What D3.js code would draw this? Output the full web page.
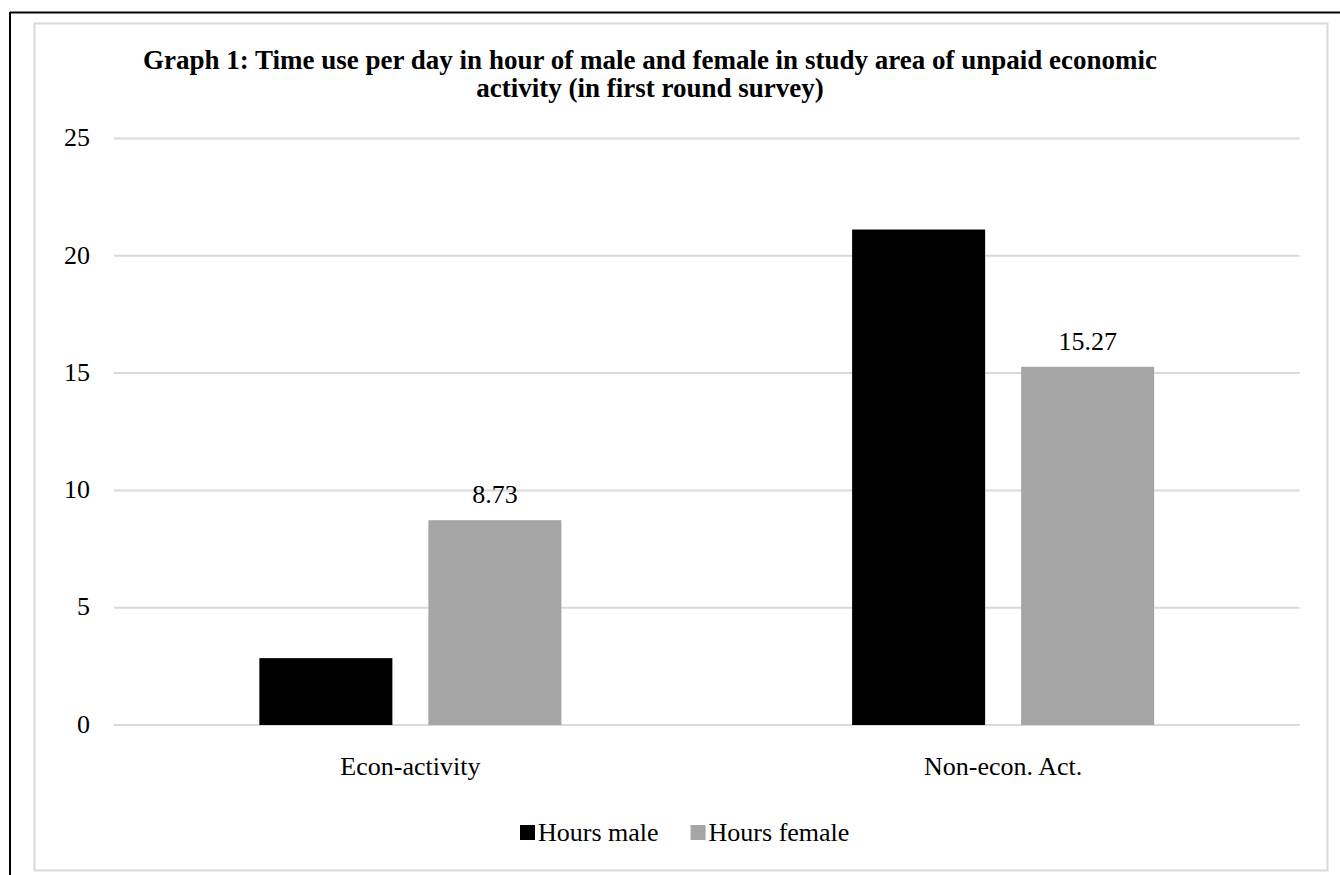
<!DOCTYPE html>
<html>
<head>
<meta charset="utf-8">
<script src="https://cdn.jsdelivr.net/npm/d3@7"></script>
<style>
  html, body { margin: 0; padding: 0; background: #fff; }
  svg text { font-family: "Liberation Serif", "Times New Roman", serif; fill: #000; }
</style>
</head>
<body>
<div id="chart"></div>
<script>
// Data
const categories = ['Econ-activity', 'Non-econ. Act.'];
const seriesNames = ['Hours male', 'Hours female'];
const hoursMale = [2.85, 21.12];
const hoursFemale = [8.73, 15.27];
const yTicks = [0, 5, 10, 15, 20, 25];
const titleLines = [
    'Graph 1: Time use per day in hour of male and female in study area of unpaid economic',
    'activity (in first round survey)'
];
// only the female series shows data labels
const labelSeries = ['Hours female'];

const colors = { 'Hours male': '#000000', 'Hours female': '#a5a5a5' };

const width = 1340, height = 875;
const plot = { left: 114, right: 1299.5, top: 138.5, bottom: 725 };

const svg = d3.select('#chart').append('svg')
    .attr('width', width)
    .attr('height', height);

// outer frame (black top and left edges)
svg.append('line').attr('x1', 10).attr('x2', width).attr('y1', 12.5).attr('y2', 12.5)
    .attr('stroke', '#000').attr('stroke-width', 2);
svg.append('line').attr('x1', 10).attr('x2', 10).attr('y1', 12).attr('y2', height)
    .attr('stroke', '#000').attr('stroke-width', 2);

// chart area border
svg.append('rect')
    .attr('x', 34.5).attr('y', 23.5)
    .attr('width', 1293).attr('height', 847)
    .attr('fill', '#fff')
    .attr('stroke', '#d9d9d9')
    .attr('stroke-width', 2);

// Scales
const y = d3.scaleLinear().domain([0, 25]).range([plot.bottom, plot.top]);
const x0 = d3.scaleBand().domain(categories).range([plot.left, plot.right]);
const x1 = d3.scaleBand().domain(seriesNames).range([0, x0.bandwidth()])
    .paddingInner(0.213).paddingOuter(0.86);

// Gridlines
svg.append('g')
    .selectAll('line')
    .data(yTicks)
    .join('line')
    .attr('x1', plot.left).attr('x2', plot.right)
    .attr('y1', d => y(d)).attr('y2', d => y(d))
    .attr('stroke', '#d9d9d9')
    .attr('stroke-width', 2);

// Y axis labels
const yAxis = d3.axisLeft(y).tickValues(yTicks).tickSize(0).tickPadding(24);
svg.append('g')
    .attr('transform', `translate(${plot.left},0)`)
    .call(yAxis)
    .call(g => g.select('.domain').remove())
    .selectAll('text')
    .style('font-family', '"Liberation Serif", "Times New Roman", serif')
    .style('font-size', '26px')
    .attr('fill', '#000')
    .attr('dy', '0.28em');

// X axis labels
const xAxis = d3.axisBottom(x0).tickSize(0).tickPadding(32);
svg.append('g')
    .attr('transform', `translate(0,${plot.bottom})`)
    .call(xAxis)
    .call(g => g.select('.domain').remove())
    .selectAll('text')
    .style('font-family', '"Liberation Serif", "Times New Roman", serif')
    .style('font-size', '26px')
    .attr('fill', '#000');

// Bars
const rows = categories.map((c, i) => ({
    category: c,
    values: [
        { series: 'Hours male', value: hoursMale[i] },
        { series: 'Hours female', value: hoursFemale[i] }
    ]
}));

const groups = svg.append('g')
    .selectAll('g')
    .data(rows)
    .join('g')
    .attr('transform', d => `translate(${x0(d.category)},0)`);

groups.selectAll('rect')
    .data(d => d.values)
    .join('rect')
    .attr('x', d => x1(d.series))
    .attr('y', d => y(d.value))
    .attr('width', x1.bandwidth())
    .attr('height', d => y(0) - y(d.value))
    .attr('fill', d => colors[d.series]);

// Data labels
groups.selectAll('text.val')
    .data(d => d.values.filter(v => labelSeries.includes(v.series)))
    .join('text')
    .attr('class', 'val')
    .attr('x', d => x1(d.series) + x1.bandwidth() / 2)
    .attr('y', d => y(d.value) - 17)
    .attr('text-anchor', 'middle')
    .style('font-size', '26px')
    .text(d => d.value.toFixed(2));

// Title
const title = svg.append('text')
    .attr('text-anchor', 'middle')
    .style('font-size', '27px')
    .style('font-weight', 'bold');
title.selectAll('tspan')
    .data(titleLines)
    .join('tspan')
    .attr('x', 650)
    .attr('y', (d, i) => 69 + i * 28)
    .text(d => d);

// Legend
const legend = svg.append('g').attr('transform', 'translate(520,841)');
let lx = 0;
seriesNames.forEach(name => {
    const item = legend.append('g').attr('transform', `translate(${lx},0)`);
    item.append('rect')
        .attr('x', 0).attr('y', -16)
        .attr('width', 15).attr('height', 15)
        .attr('fill', colors[name]);
    const t = item.append('text')
        .attr('x', 18).attr('y', 0)
        .style('font-size', '26px')
        .text(name);
    lx += 18 + t.node().getComputedTextLength() + 32;
});
</script>
</body>
</html>
